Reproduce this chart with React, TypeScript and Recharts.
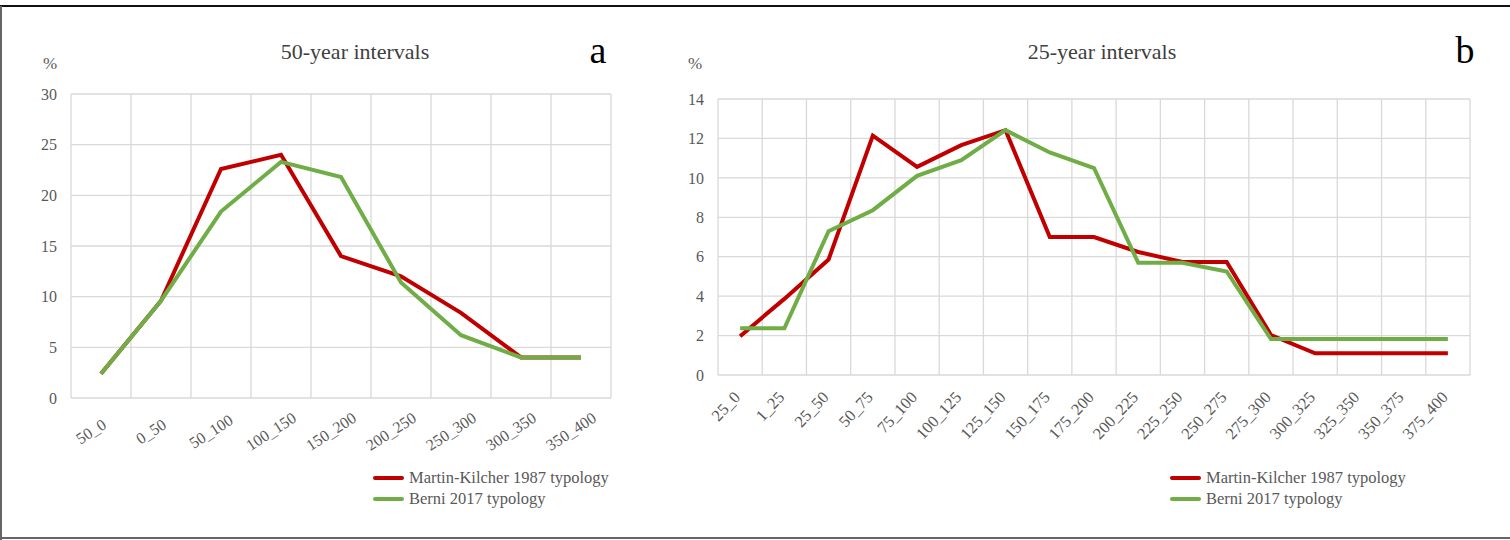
import React from "react";
import { LineChart, Line, XAxis, YAxis, CartesianGrid } from "recharts";

// 50-year intervals (panel a)
const cats50 = ["50_0", "0_50", "50_100", "100_150", "150_200", "200_250", "250_300", "300_350", "350_400"];
const martin50 = [2.4, 9.6, 22.6, 24.0, 14.0, 12.0, 8.4, 4.0, 4.0];
const berni50 = [2.4, 9.6, 18.4, 23.3, 21.8, 11.4, 6.2, 4.0, 4.0];
const yTicks50 = [0, 5, 10, 15, 20, 25, 30];

// 25-year intervals (panel b)
const cats25 = [
  "25_0", "1_25", "25_50", "50_75", "75_100", "100_125", "125_150", "150_175", "175_200",
  "200_225", "225_250", "250_275", "275_300", "300_325", "325_350", "350_375", "375_400",
];
const martin25 = [1.97, 3.86, 5.86, 12.14, 10.56, 11.66, 12.42, 7.0, 7.0, 6.24, 5.73, 5.73, 2.03, 1.1, 1.1, 1.1, 1.1];
const berni25 = [2.37, 2.37, 7.29, 8.36, 10.1, 10.9, 12.42, 11.29, 10.5, 5.69, 5.69, 5.25, 1.83, 1.83, 1.83, 1.83, 1.83];
const yTicks25 = [0, 2, 4, 6, 8, 10, 12, 14];

const SERIES = [
  { key: "martin", name: "Martin-Kilcher 1987 typology", color: "#c00000" },
  { key: "berni", name: "Berni 2017 typology", color: "#70ad47" },
];

const FONT = '"Liberation Serif", "Times New Roman", serif';
const TEXT = "#595959";
const GRID = "#d9d9d9";

function buildRows(cats: string[], martin: number[], berni: number[]) {
  return cats.map((c, i) => ({ cat: c, martin: martin[i], berni: berni[i] }));
}

// tick label placement differs a bit between the two panels
function makeTick(angle: number, anchor: "end" | "middle", dx: number, dy: number, size: number) {
  return (props: any) => {
    const { x, y, payload } = props;
    return (
      <g transform={`translate(${x + dx},${y + dy})`}>
        <text transform={`rotate(${-angle})`} textAnchor={anchor} fill={TEXT} fontSize={size} fontFamily={FONT}>
          {payload.value}
        </text>
      </g>
    );
  };
}

// vertical grid lines on the category boundaries, taken from the band scale when possible
function boundaryLines(cats: string[]) {
  return ({ xAxis, offset }: any) => {
    try {
      const sc = xAxis && xAxis.scale;
      const at = (v: string) =>
        typeof sc === "function" ? sc(v) : typeof sc.map === "function" ? sc.map(v) : sc.apply(v);
      const bw = sc.bandwidth();
      const starts = cats.map((c) => at(c));
      if (starts.every((s) => typeof s === "number" && isFinite(s))) {
        return [...starts, starts[starts.length - 1] + bw];
      }
    } catch (e) {
      // fall through
    }
    const step = offset.width / cats.length;
    return [...cats.map((_, i) => offset.left + i * step), offset.left + offset.width];
  };
}

type PanelProps = {
  left: number;
  width: number;
  yAxisWidth: number;
  marginRight: number;
  marginTop: number;
  marginBottom: number;
  cats: string[];
  martin: number[];
  berni: number[];
  yTicks: number[];
  tick: (props: any) => React.ReactElement;
  title: string;
  titleX: number;
  letter: string;
  letterX: number;
  pctX: number;
  legendX: number;
};

function Panel(p: PanelProps) {
  const data = buildRows(p.cats, p.martin, p.berni);
  const Tick = p.tick;
  return (
    <>
      <div
        style={{
          position: "absolute",
          left: p.titleX - 150,
          width: 300,
          top: 38,
          textAlign: "center",
          fontFamily: FONT,
          fontSize: 22,
          color: "#404040",
          lineHeight: "28px",
        }}
      >
        {p.title}
      </div>
      <div
        style={{
          position: "absolute",
          left: p.letterX - 20,
          width: 40,
          top: 28,
          textAlign: "center",
          fontFamily: FONT,
          fontSize: 38,
          color: "#000",
          lineHeight: "44px",
        }}
      >
        {p.letter}
      </div>
      <div
        style={{
          position: "absolute",
          left: p.pctX - 15,
          width: 30,
          top: 54,
          textAlign: "center",
          fontFamily: FONT,
          fontSize: 17,
          color: TEXT,
          lineHeight: "20px",
        }}
      >
        %
      </div>
      <div style={{ position: "absolute", left: p.left, top: 0 }}>
        <LineChart
          width={p.width}
          height={540}
          data={data}
          margin={{ top: p.marginTop, right: p.marginRight, bottom: p.marginBottom, left: 0 }}
        >
          <CartesianGrid
            stroke={GRID}
            strokeWidth={1.3}
            verticalCoordinatesGenerator={boundaryLines(p.cats)}
          />
          <XAxis
            dataKey="cat"
            type="category"
            scale="band"
            interval={0}
            height={60}
            axisLine={false}
            tickLine={false}
            tickSize={0}
            tickMargin={0}
            tick={<Tick />}
          />
          <YAxis
            width={p.yAxisWidth}
            domain={[p.yTicks[0], p.yTicks[p.yTicks.length - 1]]}
            ticks={p.yTicks}
            interval={0}
            axisLine={false}
            tickLine={false}
            tickMargin={8}
            tick={{ fill: TEXT, fontSize: 16, fontFamily: FONT }}
          />
          {SERIES.map((s) => (
            <Line
              key={s.key}
              dataKey={s.key}
              name={s.name}
              type="linear"
              stroke={s.color}
              strokeWidth={4}
              dot={false}
              activeDot={false}
              isAnimationActive={false}
            />
          ))}
        </LineChart>
      </div>
      <div style={{ position: "absolute", left: p.legendX, top: 467, fontFamily: FONT }}>
        {SERIES.map((s) => (
          <div key={s.key} style={{ display: "flex", alignItems: "center", height: 21 }}>
            <span
              style={{
                display: "inline-block",
                width: 31,
                height: 4,
                background: s.color,
                borderRadius: 2,
                marginRight: 5,
              }}
            />
            <span style={{ fontSize: 16.5, color: TEXT, lineHeight: "21px" }}>{s.name}</span>
          </div>
        ))}
      </div>
    </>
  );
}

const tickA = makeTick(33, "middle", -7, 38, 16);
const tickB = makeTick(47, "end", 1, 23, 16.5);

export default function App() {
  return (
    <div
      style={{
        position: "absolute",
        left: 0,
        top: 0,
        width: 1510,
        height: 540,
        background: "#fff",
        overflow: "hidden",
      }}
    >
      <div style={{ position: "absolute", left: 0, top: 5, width: 1510, height: 2, background: "#111" }} />
      <div style={{ position: "absolute", left: 0, top: 6, width: 2, height: 534, background: "#666" }} />
      <div style={{ position: "absolute", left: 0, top: 537, width: 1510, height: 2, background: "#666" }} />
      <Panel
        left={0}
        width={640}
        yAxisWidth={71}
        marginRight={29}
        marginTop={94}
        marginBottom={82}
        cats={cats50}
        martin={martin50}
        berni={berni50}
        yTicks={yTicks50}
        tick={tickA}
        title="50-year intervals"
        titleX={355}
        letter="a"
        letterX={598}
        pctX={50}
        legendX={373}
      />
      <Panel
        left={650}
        width={860}
        yAxisWidth={68}
        marginRight={40}
        marginTop={99}
        marginBottom={105}
        cats={cats25}
        martin={martin25}
        berni={berni25}
        yTicks={yTicks25}
        tick={tickB}
        title="25-year intervals"
        titleX={1102}
        letter="b"
        letterX={1465}
        pctX={695}
        legendX={1170}
      />
    </div>
  );
}
